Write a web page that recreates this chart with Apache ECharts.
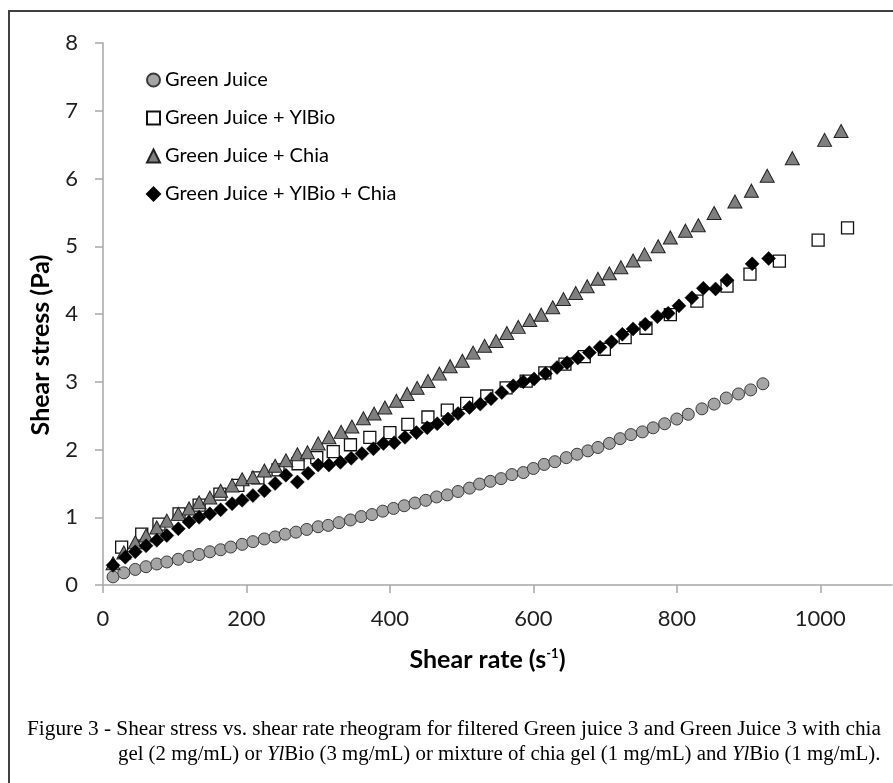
<!DOCTYPE html>
<html>
<head>
<meta charset="utf-8">
<script src="https://cdn.jsdelivr.net/npm/echarts@6/dist/echarts.min.js"></script>
<style>html,body{margin:0;padding:0;background:#fff}#c{width:893px;height:783px}</style>
</head>
<body>
<div id="c"></div>
<script>
const seriesNames = ['Green Juice', 'Green Juice + YlBio', 'Green Juice + Chia', 'Green Juice + YlBio + Chia'];
const xTicks = [0, 200, 400, 600, 800, 1000];
const yTicks = [0, 1, 2, 3, 4, 5, 6, 7, 8];

const gjX = [14,29,45,60,75,89,105,120,134,149,164,178,194,209,225,240,254,269,284,300,314,329,345,360,375,390,405,420,435,450,465,480,495,511,525,540,555,570,586,600,615,630,646,661,676,690,706,721,736,752,767,783,800,816,835,852,869,886,903,920];
const gjY = [0.12,0.18,0.23,0.27,0.31,0.34,0.38,0.42,0.45,0.49,0.52,0.56,0.60,0.64,0.68,0.71,0.75,0.78,0.82,0.86,0.88,0.92,0.96,1.01,1.04,1.09,1.13,1.17,1.21,1.25,1.30,1.33,1.38,1.43,1.49,1.53,1.57,1.63,1.66,1.72,1.78,1.82,1.88,1.93,1.98,2.03,2.09,2.16,2.22,2.26,2.32,2.38,2.45,2.52,2.60,2.67,2.76,2.82,2.88,2.97];

const ylX = [26,54,78,106,134,163,188,216,244,272,298,321,345,372,400,425,453,480,507,535,562,590,616,644,671,699,728,757,791,828,870,902,943,997,1038];
const ylY = [0.56,0.75,0.90,1.05,1.18,1.34,1.47,1.58,1.70,1.79,1.88,1.97,2.07,2.18,2.25,2.37,2.48,2.58,2.68,2.79,2.91,3.01,3.13,3.26,3.37,3.48,3.65,3.79,3.99,4.19,4.41,4.59,4.78,5.09,5.27];

const chX = [14,29,45,60,75,89,105,120,134,149,164,180,194,209,225,240,255,271,285,300,315,332,347,363,378,393,409,424,438,453,469,484,501,516,532,548,563,579,595,611,627,642,659,675,690,706,722,739,755,774,791,812,830,852,881,904,926,961,1006,1029];
const chY = [0.32,0.48,0.63,0.73,0.85,0.95,1.05,1.13,1.22,1.29,1.39,1.47,1.56,1.59,1.69,1.76,1.84,1.93,1.96,2.09,2.18,2.26,2.34,2.46,2.53,2.62,2.72,2.82,2.91,3.01,3.12,3.23,3.31,3.43,3.53,3.60,3.72,3.81,3.91,3.99,4.10,4.22,4.31,4.41,4.52,4.60,4.69,4.79,4.88,5.00,5.13,5.23,5.31,5.49,5.66,5.82,6.04,6.30,6.57,6.70];

const mixX = [14,31,45,60,75,89,105,120,134,149,164,180,194,209,225,240,255,271,286,300,315,331,346,361,377,391,406,421,437,452,466,481,495,511,526,541,556,572,586,601,617,633,647,662,678,693,709,724,739,756,773,788,803,821,837,854,870,905,928];
const mixY = [0.29,0.41,0.49,0.58,0.66,0.73,0.83,0.93,1.00,1.05,1.11,1.20,1.25,1.32,1.39,1.50,1.62,1.52,1.65,1.77,1.77,1.81,1.87,1.94,2.01,2.09,2.10,2.18,2.25,2.32,2.38,2.45,2.53,2.62,2.67,2.75,2.84,2.94,3.00,3.04,3.12,3.21,3.28,3.35,3.43,3.51,3.59,3.70,3.78,3.85,3.96,4.01,4.12,4.24,4.38,4.37,4.50,4.74,4.82];

const pairs = (xs, ys) => xs.map((x, i) => [x, ys[i]]);

const chart = echarts.init(document.getElementById('c'), null, {renderer: 'canvas'});
const axisGray = '#a6a6a6';
const labelFont = 'Lato, "Open Sans", sans-serif';
const serif = '"Liberation Serif", "Times New Roman", serif';

chart.setOption({
  animation: false,
  backgroundColor: '#fff',
  grid: {left: 103, top: 43, right: 1, bottom: 198, containLabel: false},
  legend: {
    orient: 'vertical', left: 141, top: 65, padding: 5,
    itemWidth: 13, itemHeight: 13, itemGap: 18,
    textStyle: {fontFamily: labelFont, fontSize: 20, color: '#000', lineHeight: 20},
    data: seriesNames
  },
  xAxis: {
    type: 'value', min: 0, max: 1100, interval: 200,
    name: '{a|Shear rate (s}{s|-1}{a|)}',
    nameLocation: 'middle', nameGap: 62,
    nameTextStyle: {
      padding: [0, 20, 0, 0],
      rich: {
        a: {fontFamily: labelFont, fontWeight: 'bold', fontSize: 25, color: '#000'},
        s: {fontFamily: labelFont, fontWeight: 'bold', fontSize: 13, color: '#000', verticalAlign: 'top', padding: [0, 0, 9, 0]}
      }
    },
    axisLine: {lineStyle: {color: axisGray, width: 1.5}},
    axisTick: {show: true, inside: false, length: 8, lineStyle: {color: axisGray, width: 1.5}, customValues: xTicks},
    axisLabel: {customValues: xTicks, formatter: v => String(v), fontFamily: labelFont, fontSize: 22, color: '#1f1f1f', margin: 23},
    splitLine: {show: false}
  },
  yAxis: {
    type: 'value', min: 0, max: 8, interval: 1,
    name: 'Shear stress (Pa)',
    nameLocation: 'middle', nameGap: 50, nameRotate: 90,
    nameTextStyle: {fontFamily: labelFont, fontWeight: 'bold', fontSize: 25, color: '#000', padding: [0, 62, 0, 0]},
    axisLine: {show: true, lineStyle: {color: axisGray, width: 1.5}},
    axisTick: {show: true, inside: false, length: 8, lineStyle: {color: axisGray, width: 1.5}, customValues: yTicks},
    axisLabel: {customValues: yTicks, fontFamily: labelFont, fontSize: 22, color: '#1f1f1f', margin: 25},
    splitLine: {show: false}
  },
  series: [
    {name: seriesNames[0], type: 'scatter', data: pairs(gjX, gjY), symbol: 'circle', symbolSize: 12,
     itemStyle: {color: '#a5a5a5', borderColor: '#3a3a3a', borderWidth: 1, opacity: 1}},
    {name: seriesNames[1], type: 'scatter', data: pairs(ylX, ylY), symbol: 'rect', symbolSize: 12,
     itemStyle: {color: '#ffffff', borderColor: '#111', borderWidth: 1.3, opacity: 1}},
    {name: seriesNames[2], type: 'scatter', data: pairs(chX, chY), symbol: 'triangle', symbolSize: [14, 13],
     itemStyle: {color: '#7f7f7f', borderColor: '#222', borderWidth: 1, opacity: 1}},
    {name: seriesNames[3], type: 'scatter', data: pairs(mixX, mixY), symbol: 'diamond', symbolSize: [14, 14],
     itemStyle: {color: '#000000', borderColor: '#000', borderWidth: 0.5, opacity: 1}}
  ],
  graphic: [
    {type: 'rect', z: -10, silent: true,
     shape: {x: 9, y: 11, width: 1000, height: 1000},
     style: {fill: null, stroke: '#404040', lineWidth: 2}},
    {type: 'text', x: 27, y: 729, silent: true,
     style: {text: 'Figure 3 - Shear stress vs. shear rate rheogram for filtered Green juice 3 and Green Juice 3 with chia',
             font: '21.3px ' + serif, fill: '#000', textVerticalAlign: 'middle'}},
    {type: 'text', x: 118, y: 755, silent: true,
     style: {text: '{n|gel (2 mg/mL) or }{i|Yl}{n|Bio (3 mg/mL) or mixture of chia gel (1 mg/mL) and }{i|Yl}{n|Bio (1 mg/mL).}',
             textVerticalAlign: 'middle',
             rich: {
               n: {fontFamily: serif, fontSize: 20.8, fill: '#000'},
               i: {fontFamily: serif, fontSize: 20.8, fontStyle: 'italic', fill: '#000'}
             }}}
  ]
});
</script>
</body>
</html>
